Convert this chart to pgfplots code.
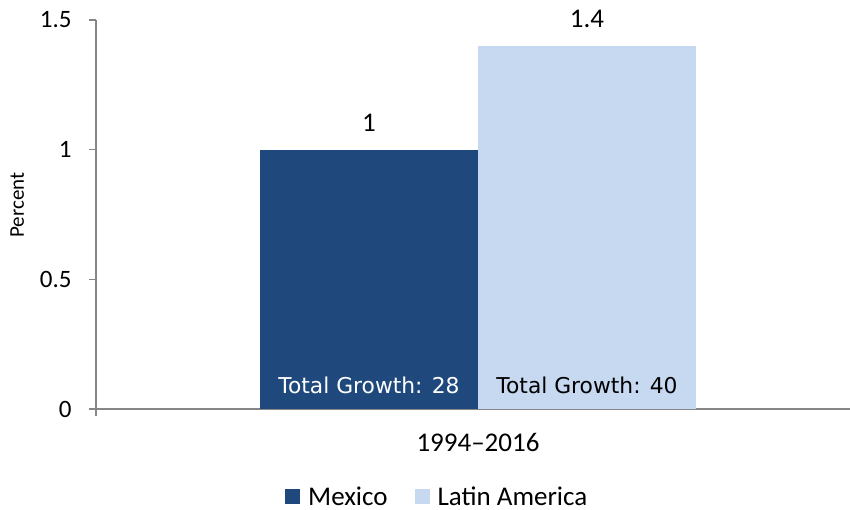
\documentclass[border=0pt]{standalone}
\usepackage{pgfplots}
\pgfplotsset{compat=1.18}
\usepackage{fontspec}
\setmainfont{Carlito}
\newfontfamily\verdana{DejaVu Sans}
\definecolor{mex}{HTML}{1F497D}
\definecolor{lat}{HTML}{C6D9F1}
\definecolor{axgray}{HTML}{868686}
\newcommand{\cfont}{\fontsize{25bp}{30bp}\selectfont}
\newcommand{\dfont}{\fontsize{27bp}{32bp}\selectfont}
\begin{document}
\begin{tikzpicture}
\begin{axis}[
  at={(96bp,-409bp)}, anchor=south west,
  scale only axis, width=764bp, height=389bp,
  xmin=-0.5, xmax=0.5, ymin=0, ymax=1.5,
  axis x line*=bottom, axis y line*=left,
  axis line style={axgray, line width=1.3bp, -},
  tick style={axgray, line width=1.3bp},
  tick align=outside,
  major tick length=7bp,
  ytick={0,0.5,1,1.5},
  yticklabels={0,0.5,1,1.5},
  xtick={-0.5,0.5}, xticklabels={,},
  extra x ticks={0}, extra x tick labels={1994--2016},
  extra x tick style={major tick length=0pt},
  xticklabel style={font=\dfont, yshift=-21bp},
  yticklabel style={font=\cfont, xshift=-14bp},
  /pgf/number format/assume math mode=true,
  ylabel={Percent},
  ylabel style={font=\fontsize{21bp}{25bp}\selectfont,
    at={(axis description cs:-0.103,0.524)}, anchor=center},
  legend style={draw=none, at={(0.446,-0.225)}, anchor=center,
    font=\dfont, legend columns=2, nodes={inner sep=1bp},
    /tikz/every even column/.append style={column sep=26bp}},
  legend image code/.code={\path[#1, draw=none] (0bp,-7.5bp) rectangle (15bp,7.5bp); \path (22bp,0bp);},
  clip=false,
]
\addplot[ybar, fill=mex, draw=none, bar width=218bp, bar shift=0pt,
  nodes near coords, nodes near coords style={font=\dfont, text=black, yshift=15bp}]
  coordinates {(-0.1427,1)};
\addlegendentry{Mexico}
\addplot[ybar, fill=lat, draw=none, bar width=218bp, bar shift=0pt,
  nodes near coords, nodes near coords style={font=\dfont, text=black, yshift=15bp}]
  coordinates {(0.1427,1.4)};
\addlegendentry{Latin America}
\node[font=\verdana\fontsize{21.8bp}{26bp}\selectfont, text=white, anchor=base, yshift=16bp]
  at (axis cs:-0.1427,0) {Total Growth: 28};
\node[font=\verdana\fontsize{21.8bp}{26bp}\selectfont, text=black, anchor=base, yshift=16bp]
  at (axis cs:0.1427,0) {Total Growth: 40};
\end{axis}
\pgfresetboundingbox
\path[use as bounding box] (0,0) rectangle (850bp,-510bp);
\end{tikzpicture}
\end{document}
